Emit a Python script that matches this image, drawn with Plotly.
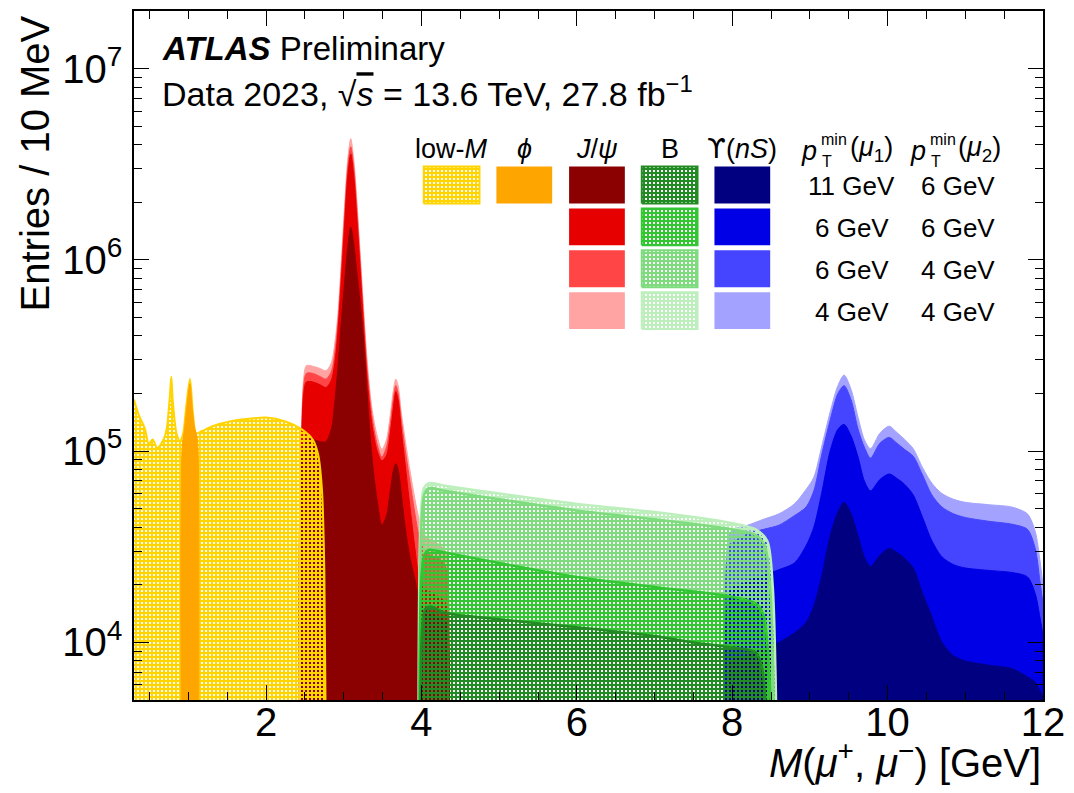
import plotly.graph_objects as go

# ---------------- data ----------------
# low-M trigger (yellow, hatched)
lowm_x = [0.30, 0.36, 0.44, 0.49, 0.54, 0.60, 0.68, 0.72, 0.76, 0.78, 0.80, 0.85, 0.89, 0.93,
          0.97, 1.02, 1.06, 1.10, 1.17, 1.31, 1.53, 1.80, 2.00, 2.25, 2.46, 2.60, 2.67, 2.72,
          2.75, 2.78]
lowm_y = [1.86e5, 1.55e5, 1.31e5, 1.09e5, 1.15e5, 1.04e5, 1.15e5, 1.30e5, 1.90e5, 2.45e5,
          1.80e5, 1.22e5, 1.13e5, 1.22e5, 1.67e5, 2.38e5, 1.55e5, 1.24e5, 1.27e5, 1.35e5,
          1.43e5, 1.48e5, 1.50e5, 1.43e5, 1.30e5, 1.15e5, 9.6e4, 6.2e4, 2.3e4, 1.0e3]

# phi trigger (orange)
phi_x = [0.915, 0.92, 0.95, 0.99, 1.02, 1.05, 1.08, 1.11, 1.125, 1.13]
phi_y = [1.0e3, 1.05e5, 1.30e5, 1.85e5, 2.25e5, 1.65e5, 1.32e5, 1.20e5, 1.0e5, 1.0e3]

# J/psi trigger, four pT thresholds
jpsi_x = [2.44, 2.48, 2.52, 2.60, 2.70, 2.77, 2.84, 2.89, 2.93, 2.97, 3.01, 3.05, 3.09, 3.13,
          3.17, 3.21, 3.25, 3.30, 3.36, 3.43, 3.49, 3.55, 3.60, 3.64, 3.67, 3.70, 3.74, 3.79,
          3.85, 3.92, 3.97, 4.05, 4.15, 4.25, 4.31, 4.34]
jpsi_44 = [1e3, 2.3e5, 2.8e5, 2.78e5, 2.7e5, 2.63e5, 2.9e5, 3.8e5, 5.5e5, 1.0e6, 1.9e6, 3.3e6,
           4.3e6, 3.3e6, 2.0e6, 1.1e6, 6.0e5, 3.0e5, 1.7e5, 1.2e5, 1.02e5, 1.15e5, 1.55e5,
           2.1e5, 2.38e5, 2.2e5, 1.6e5, 1.15e5, 8.0e4, 5.5e4, 4.4e4, 3.6e4, 3.4e4, 3.2e4,
           3.0e4, 1e3]
jpsi_64 = [1e3, 2.1e5, 2.55e5, 2.55e5, 2.45e5, 2.38e5, 2.6e5, 3.4e5, 5.0e5, 9.0e5, 1.7e6, 3.0e6,
           3.9e6, 3.0e6, 1.8e6, 1.0e6, 5.4e5, 2.7e5, 1.55e5, 1.08e5, 9.3e4, 1.05e5, 1.4e5,
           1.9e5, 2.2e5, 2.0e5, 1.45e5, 1.02e5, 7.0e4, 4.6e4, 3.6e4, 3.0e4, 2.8e4, 2.7e4,
           2.5e4, 1e3]
jpsi_66 = [1e3, 1.9e5, 2.3e5, 2.3e5, 2.22e5, 2.15e5, 2.35e5, 3.0e5, 4.5e5, 8.0e5, 1.5e6, 2.7e6,
           3.58e6, 2.7e6, 1.6e6, 9.0e5, 4.8e5, 2.4e5, 1.4e5, 1.0e5, 8.9e4, 9.5e4, 1.25e5,
           1.7e5, 2.05e5, 1.85e5, 1.3e5, 8.5e4, 5.2e4, 3.0e4, 2.2e4, 1.9e4, 1.8e4, 1.7e4,
           1.6e4, 1e3]
jpsi_116 = [1e3, 1.1e5, 1.15e5, 1.15e5, 1.12e5, 1.12e5, 1.3e5, 1.9e5, 2.9e5, 4.8e5, 7.5e5,
            1.15e6, 1.48e6, 1.2e6, 8.5e5, 6.0e5, 4.0e5, 2.0e5, 9.5e4, 5.5e4, 4.1e4, 4.6e4,
            6.2e4, 8.0e4, 8.6e4, 8.0e4, 6.0e4, 4.0e4, 2.8e4, 2.1e4, 1.7e4, 1.5e4, 1.4e4,
            1.35e4, 1.3e4, 1e3]

# B trigger (green, hatched), four pT thresholds
b44_x = [3.96, 3.99, 4.03, 4.10, 4.30, 5.0, 6.0, 7.0, 8.0, 8.30, 8.45, 8.52, 8.56, 8.59]
b44_y = [1e3, 4.5e4, 6.4e4, 6.8e4, 6.6e4, 6.0e4, 5.3e4, 4.8e4, 4.2e4, 3.9e4, 3.4e4, 2.0e4, 6e3, 1e3]
b64_x = [3.97, 4.00, 4.04, 4.10, 4.30, 5.0, 6.0, 7.0, 8.0, 8.30, 8.42, 8.49, 8.53, 8.56]
b64_y = [1e3, 4.2e4, 6.0e4, 6.4e4, 6.2e4, 5.6e4, 4.9e4, 4.4e4, 3.9e4, 3.65e4, 3.2e4, 1.9e4, 6e3, 1e3]
b66_x = [3.97, 4.00, 4.04, 4.10, 4.30, 5.0, 6.0, 7.0, 8.0, 8.30, 8.40, 8.46, 8.50, 8.53]
b66_y = [1e3, 2.2e4, 2.9e4, 3.05e4, 2.95e4, 2.6e4, 2.2e4, 1.95e4, 1.73e4, 1.6e4, 1.4e4, 9e3, 4e3, 1e3]
b116_x = [3.98, 4.01, 4.05, 4.12, 4.30, 5.0, 6.0, 7.0, 7.5, 8.0, 8.30, 8.38, 8.44, 8.48]
b116_y = [1e3, 1.2e4, 1.5e4, 1.54e4, 1.43e4, 1.32e4, 1.2e4, 1.08e4, 1.0e4, 9.4e3, 8.9e3, 7.5e3, 4e3, 1e3]

# Upsilon trigger (blue), four pT thresholds
ups_x = [7.95, 7.98, 8.1, 8.2, 8.4, 8.6, 8.8, 8.95, 9.05, 9.15, 9.26, 9.36, 9.44, 9.53, 9.62,
         9.70, 9.78, 9.90, 10.02, 10.12, 10.22, 10.33, 10.45, 10.57, 10.7, 10.85, 11.0, 11.3,
         11.6, 11.8, 11.9, 11.96, 12.0]
ups_44 = [1e3, 3.8e4, 4.0e4, 4.1e4, 4.4e4, 4.7e4, 5.3e4, 6.3e4, 7.3e4, 1.05e5, 1.6e5, 2.2e5,
          2.5e5, 2.1e5, 1.5e5, 1.15e5, 1.03e5, 1.24e5, 1.35e5, 1.25e5, 1.15e5, 1.03e5, 8.2e4,
          6.8e4, 6.0e4, 5.6e4, 5.4e4, 5.25e4, 5.1e4, 4.7e4, 3.8e4, 2.7e4, 2.0e4]
ups_64 = [1e3, 3.3e4, 3.5e4, 3.7e4, 3.9e4, 4.1e4, 4.6e4, 5.1e4, 6.2e4, 9.5e4, 1.45e5, 2.0e5,
          2.2e5, 1.85e5, 1.3e5, 1.05e5, 9.2e4, 1.1e5, 1.18e5, 1.1e5, 1.02e5, 9.4e4, 7.5e4,
          5.9e4, 5.1e4, 4.7e4, 4.5e4, 4.3e4, 4.15e4, 3.9e4, 3.1e4, 2.1e4, 1.6e4]
ups_66 = [1e3, 1.9e4, 2.0e4, 2.1e4, 2.25e4, 2.4e4, 2.6e4, 3.2e4, 4.0e4, 6.0e4, 1.0e5, 1.3e5,
          1.38e5, 1.2e5, 9.3e4, 7.0e4, 6.2e4, 7.1e4, 7.6e4, 7.2e4, 6.7e4, 5.9e4, 4.5e4, 3.4e4,
          2.8e4, 2.55e4, 2.45e4, 2.38e4, 2.32e4, 2.2e4, 1.8e4, 1.36e4, 1.1e4]
ups_116 = [1e3, 8.0e3, 8.3e3, 8.6e3, 9.2e3, 1.0e4, 1.12e4, 1.27e4, 1.55e4, 2.2e4, 3.6e4, 4.8e4,
           5.4e4, 4.7e4, 3.6e4, 2.8e4, 2.5e4, 2.85e4, 3.1e4, 2.95e4, 2.75e4, 2.45e4, 1.8e4,
           1.36e4, 1.0e4, 8.5e3, 8.0e3, 7.6e3, 7.3e3, 6.6e3, 6.2e3, 5.6e3, 5.2e3]

# legend table
legend_heads = ["low-<i>M</i>", "<i>ϕ</i>", "<i>J</i>/<i>ψ</i>", "B",
                "<span style='font-family:DejaVu Sans'>ϒ</span>(<i>nS</i>)"]
pt1_labels = ["11 GeV", "6 GeV", "6 GeV", "4 GeV"]
pt2_labels = ["6 GeV", "6 GeV", "4 GeV", "4 GeV"]
x_ticks = [2, 4, 6, 8, 10, 12]
y_ticks = [1e4, 1e5, 1e6, 1e7]
y_ticktext = ["10<sup>4</sup>", "10<sup>5</sup>", "10<sup>6</sup>", "10<sup>7</sup>"]

# ---------------- styles ----------------
YELLOW = "#FFD400"
ORANGE = "#FFA500"
REDS = ["#FFA3A3", "#FF4545", "#E60000", "#8B0000"]      # 4/4, 6/4, 6/6, 11/6
GREENS = ["#BDEFBD", "#7EDC7E", "#33C633", "#238B23"]
BLUES = ["#A3A3FF", "#4545FF", "#0000E6", "#000080"]
FONT = "Liberation Sans, Arial, sans-serif"
NARROW = "Liberation Sans Narrow, Liberation Sans, Arial, sans-serif"

# page body has an 8 px margin: the figure itself is 16 px smaller than the window
OFF = 8
W, H = 1074 - 2 * OFF, 793 - 2 * OFF
# plot-area edges in window pixels
L, R, T, B = 134, 1047, 9, 700
PW, PH = R - L, B - T


def fx(px):
    return (px - L) / PW


def fy(py):
    return (B - py) / PH


def pattern(color):
    return dict(shape="+", size=4, solidity=0.75, fgcolor=color,
                bgcolor="rgba(0,0,0,0)", fillmode="replace")


fig = go.Figure()


def solid(x, y, color):
    fig.add_trace(go.Scatter(x=x, y=y, mode="lines", fill="tozeroy", fillcolor=color,
                             line=dict(color=color, width=1, shape="spline", smoothing=0.8),
                             hoverinfo="skip", showlegend=False))


def hatched(x, y, color, lw):
    fig.add_trace(go.Scatter(x=x, y=y, mode="lines", fill="tozeroy",
                             fillpattern=pattern(color),
                             line=dict(color=color, width=lw, shape="spline", smoothing=0.8),
                             hoverinfo="skip", showlegend=False))


for yv, c in zip([jpsi_44, jpsi_64, jpsi_66, jpsi_116], REDS):
    solid(jpsi_x, yv, c)
for yv, c in zip([ups_44, ups_64, ups_66, ups_116], BLUES):
    solid(ups_x, yv, c)
hatched(lowm_x, lowm_y, YELLOW, 2)
solid(phi_x, phi_y, ORANGE)
for xv, yv, c in zip([b44_x, b64_x, b66_x, b116_x], [b44_y, b64_y, b66_y, b116_y], GREENS):
    hatched(xv, yv, c, 2.5)

# ---------------- legend swatches on an overlay axis ----------------
col_cx = [453, 526, 599, 672, 745]
row_top = [165, 207, 249, 291]
box_w, box_h = 56, 37
swatches = [
    (0, 0, YELLOW, True), (1, 0, ORANGE, False),
] + [(2, r, REDS[3 - r], False) for r in range(4)] \
  + [(3, r, GREENS[3 - r], True) for r in range(4)] \
  + [(4, r, BLUES[3 - r], False) for r in range(4)]
for col, row, color, hat in swatches:
    x0 = fx(col_cx[col] - box_w / 2)
    x1 = fx(col_cx[col] + box_w / 2)
    y0 = fy(row_top[row] + box_h)
    y1 = fy(row_top[row])
    kw = dict(x=[x0, x1, x1, x0, x0], y=[y0, y0, y1, y1, y0], mode="lines", fill="toself",
              xaxis="x2", yaxis="y2", hoverinfo="skip", showlegend=False)
    if hat:
        fig.add_trace(go.Scatter(fillpattern=pattern(color), line=dict(color=color, width=2), **kw))
    else:
        fig.add_trace(go.Scatter(fillcolor=color, line=dict(color=color, width=0), **kw))

ann = []


def text(px, py, s, size, xanchor="center", family=FONT, yanchor="middle", **kw):
    ann.append(dict(x=fx(px), y=fy(py), xref="paper", yref="paper", text=s, showarrow=False,
                    xanchor=xanchor, yanchor=yanchor, font=dict(family=family, size=size,
                                                                color="black"), **kw))


for cx, h in zip(col_cx, legend_heads):
    text(cx, 147, h, 27)
for px_p, sub in [(822, "1"), (931, "2")]:
    text(px_p, 149, "<i>p</i>", 27, xanchor="right")
    text(px_p, 138, "min", 16, xanchor="left")
    text(px_p + 1, 160, "T", 16, xanchor="left")
    text(px_p + 29, 147, "(<i>μ</i><sub>%s</sub>)" % sub, 27, xanchor="left")
for i, r in enumerate(row_top):
    text(855, r + box_h / 2 + 1, pt1_labels[i], 26)
    text(962, r + box_h / 2 + 1, pt2_labels[i], 26)

text(160, 47, "<b><i>ATLAS</i></b> Preliminary", 33, xanchor="left")
text(160, 90, "Data 2023, √<span style='text-decoration:overline'><i>s</i></span> = 13.6 TeV, 27.8 fb<sup>−1</sup>",
     34, xanchor="left")
# axis titles
text(1046, 786, "<i>M</i>(<i>μ</i><sup>+</sup>, <i>μ</i><sup>−</sup>) [GeV]", 40, xanchor="right",
     family=NARROW, yanchor="bottom", borderpad=0)
ann.append(dict(x=fx(35), y=fy(11), xref="paper", yref="paper", text="Entries / 10 MeV",
                showarrow=False, textangle=-90, xanchor="center", yanchor="top",
                font=dict(family=NARROW, size=40, color="black")))

minor_y = [m * 10 ** k for k in range(3, 8) for m in range(2, 10)]

fig.update_layout(
    width=W, height=H,
    margin=dict(l=L - OFF, r=(1074 - OFF) - R, t=T - OFF, b=(793 - OFF) - B, pad=0),
    paper_bgcolor="white", plot_bgcolor="white",
    showlegend=False,
    annotations=ann,
    xaxis=dict(range=[0.3, 12], tickvals=x_ticks, ticks="inside", ticklen=15, tickwidth=1.2,
               tickcolor="black", showline=True, linecolor="black", linewidth=1.5,
               mirror="allticks", showgrid=False, zeroline=False,
               tickfont=dict(family=NARROW, size=40, color="black"), ticklabelstandoff=-14,
               ticklabeloverflow="allow",
               minor=dict(dtick=0.5, tick0=0, ticks="inside", ticklen=8, tickwidth=1,
                          tickcolor="black", showgrid=False)),
    yaxis=dict(type="log", range=[3.699, 7.301], tickvals=y_ticks, ticktext=y_ticktext,
               ticks="inside", ticklen=15, tickwidth=1.2, tickcolor="black", showline=True,
               linecolor="black", linewidth=1.5, mirror="allticks", showgrid=False,
               zeroline=False, tickfont=dict(family=NARROW, size=40, color="black"),
               ticklabelstandoff=2,
               minor=dict(tickvals=minor_y, ticks="inside", ticklen=8, tickwidth=1,
                          tickcolor="black", showgrid=False)),
    xaxis2=dict(range=[0, 1], overlaying="x", visible=False, fixedrange=True),
    yaxis2=dict(range=[0, 1], overlaying="y", visible=False, fixedrange=True),
)

fig.write_html("out.html")
